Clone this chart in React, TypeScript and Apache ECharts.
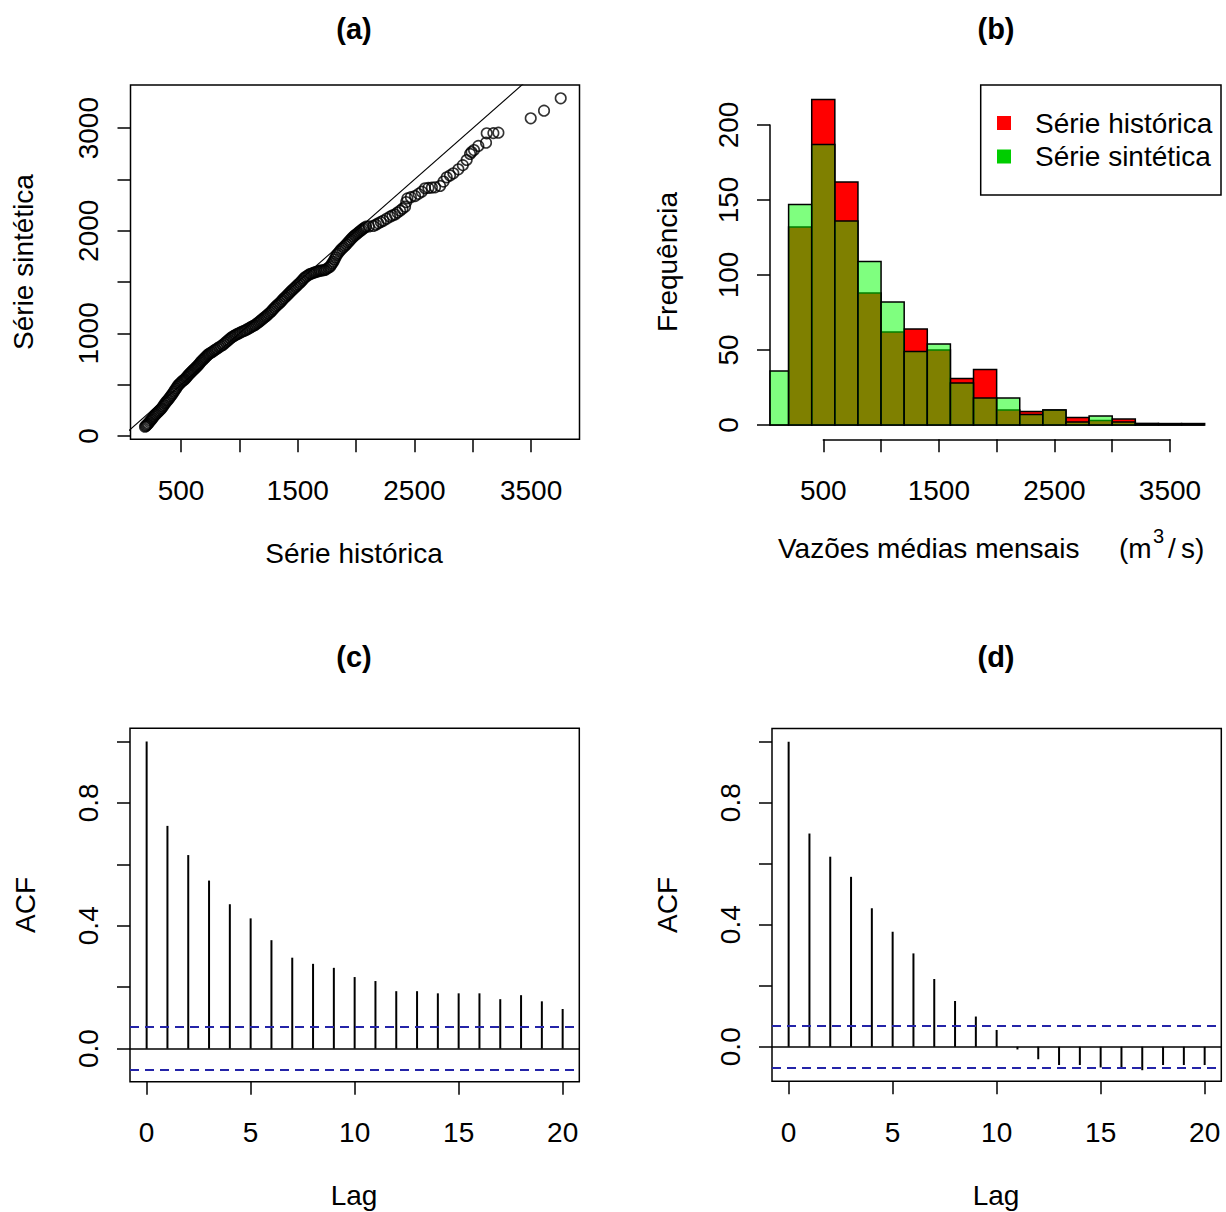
import React, { useEffect, useRef } from "react";
import * as echarts from "echarts";

const FONT = "Liberation Sans, Arial, sans-serif";

// ---------- (a) QQ plot: [historical quantile, synthetic quantile] ----------
const qqQuantiles: [number, number][] = [
  [191, 91], [198, 98], [205, 106], [212, 114], [220, 123], [229, 136], [238, 149], [248, 162],
  [257, 176], [267, 191], [277, 205], [286, 215], [296, 226], [306, 237], [315, 248], [325, 259],
  [334, 270], [344, 286], [353, 302], [363, 318], [372, 331], [382, 344], [391, 357], [401, 371],
  [410, 385], [420, 399], [429, 415], [439, 432], [448, 448], [458, 464], [467, 481], [477, 497],
  [487, 508], [496, 518], [506, 529], [515, 538], [525, 546], [534, 555], [544, 568], [553, 581],
  [563, 594], [572, 605], [582, 616], [591, 627], [601, 638], [610, 648], [620, 659], [629, 670],
  [639, 681], [648, 692], [658, 705], [667, 718], [677, 731], [687, 742], [696, 752], [706, 763],
  [715, 774], [725, 785], [734, 796], [746, 805], [759, 813], [771, 822], [784, 833], [797, 843],
  [811, 854], [826, 865], [842, 876], [857, 887], [870, 900], [884, 913], [897, 926], [909, 938],
  [922, 950], [934, 962], [946, 971], [959, 979], [971, 988], [984, 995], [998, 1002], [1011, 1010],
  [1026, 1018], [1042, 1025], [1057, 1033], [1070, 1042], [1084, 1050], [1097, 1059], [1109, 1067], [1122, 1074],
  [1134, 1082], [1146, 1093], [1159, 1103], [1171, 1114], [1183, 1125], [1194, 1136], [1206, 1147], [1217, 1158],
  [1229, 1168], [1240, 1179], [1252, 1192], [1265, 1205], [1277, 1218], [1288, 1232], [1300, 1247], [1311, 1261],
  [1323, 1274], [1336, 1286], [1348, 1299], [1360, 1313], [1371, 1328], [1383, 1342], [1395, 1356], [1408, 1370],
  [1420, 1384], [1431, 1397], [1443, 1410], [1454, 1423], [1466, 1436], [1479, 1449], [1491, 1462], [1503, 1476],
  [1516, 1490], [1528, 1504], [1540, 1518], [1551, 1533], [1563, 1547], [1577, 1558], [1591, 1568], [1605, 1579],
  [1619, 1584], [1634, 1590], [1648, 1595], [1662, 1600], [1677, 1606], [1691, 1611], [1705, 1613], [1720, 1616],
  [1734, 1618], [1748, 1629], [1763, 1639], [1777, 1650], [1787, 1666], [1796, 1683], [1806, 1699], [1815, 1721],
  [1825, 1742], [1834, 1764], [1845, 1780], [1857, 1797], [1868, 1813], [1881, 1827], [1893, 1841], [1906, 1855],
  [1918, 1870], [1931, 1886], [1943, 1901], [1954, 1915], [1966, 1929], [1977, 1943], [1988, 1954], [2000, 1964],
  [2011, 1975], [2023, 1986], [2036, 1997], [2048, 2008], [2060, 2019], [2073, 2029], [2085, 2040], [2110, 2043],
  [2148, 2047], [2170, 2060], [2191, 2073], [2212, 2086], [2234, 2099], [2262, 2118], [2291, 2138], [2312, 2150],
  [2334, 2160], [2355, 2178], [2377, 2196], [2398, 2215], [2420, 2235], [2430, 2280], [2440, 2316], [2470, 2328],
  [2506, 2339], [2535, 2360], [2563, 2381], [2591, 2414], [2620, 2418], [2650, 2421], [2677, 2424], [2720, 2437],
  [2750, 2480], [2777, 2521], [2805, 2540], [2834, 2560], [2877, 2599], [2915, 2640], [2948, 2690], [2977, 2749],
  [2990, 2768], [3011, 2787], [3048, 2827], [3114, 2859], [3120, 2950], [3177, 2952], [3220, 2956], [3497, 3096],
  [3611, 3171], [3754, 3291],
];
const identityLine = [0, 4000]; // y = x reference line (abline)
const qqXTicks = [500, 1000, 1500, 2000, 2500, 3000, 3500];
const qqXLabels = [500, 1500, 2500, 3500];
const qqYTicks = [0, 500, 1000, 1500, 2000, 2500, 3000];
const qqYLabels = [0, 1000, 2000, 3000];

// ---------- (b) histogram ----------
const histBreaks = [0, 200, 400, 600, 800, 1000, 1200, 1400, 1600, 1800, 2000, 2200, 2400, 2600, 2800, 3000, 3200, 3400, 3600, 3800];
const countsHistorica = [0, 132, 217, 162, 88, 62, 64, 50, 31, 37, 10, 9, 10, 5, 3, 4, 1, 1, 1];
const countsSintetica = [36, 147, 187, 136, 109, 82, 49, 54, 28, 18, 18, 7, 10, 2, 6, 2, 1, 0, 0];
const flowLabels = [500, 1500, 2500, 3500];

// ---------- (c), (d) ACF ----------
const lags = [0, 1, 2, 3, 4, 5, 6, 7, 8, 9, 10, 11, 12, 13, 14, 15, 16, 17, 18, 19, 20];
const acfC = [1.0, 0.725, 0.63, 0.547, 0.47, 0.424, 0.353, 0.296, 0.276, 0.263, 0.233, 0.22, 0.187, 0.187, 0.18, 0.18, 0.18, 0.161, 0.174, 0.154, 0.129];
const acfD = [1.0, 0.699, 0.623, 0.557, 0.454, 0.377, 0.306, 0.222, 0.15, 0.099, 0.055, -0.009, -0.041, -0.06, -0.06, -0.068, -0.068, -0.077, -0.06, -0.06, -0.06];
const ciC = 0.065;
const ciD = 0.066;
const lagTicks = [0, 5, 10, 15, 20];
const acfTicks = [0, 0.2, 0.4, 0.6, 0.8, 1.0];
const acfLabels = [0, 0.4, 0.8];

const BLUE = "#2424a8";

const tickStyle = { show: true, length: 13, lineStyle: { color: "#000", width: 1.5 } };
const labelStyle = { color: "#000", fontFamily: FONT, fontSize: 28 };
const noLine = { show: false, onZero: false };

function histRender(fill: string) {
  return (params: any, api: any) => {
    const lo = api.value(0);
    const hi = api.value(1);
    const n = api.value(2);
    const p0 = api.coord([lo, n]);
    const p1 = api.coord([hi, 0]);
    const cs = params.coordSys;
    const x0 = Math.max(p0[0], cs.x);
    const x1 = Math.min(p1[0], cs.x + cs.width);
    if (x1 <= x0) return null;
    return {
      type: "rect",
      shape: { x: x0, y: p0[1], width: x1 - x0, height: p1[1] - p0[1] },
      style: { fill, stroke: "#000", lineWidth: 1.5 },
    };
  };
}

function acfRender(params: any, api: any) {
  const p0 = api.coord([api.value(0), 0]);
  const p1 = api.coord([api.value(0), api.value(1)]);
  return {
    type: "line",
    shape: { x1: p0[0], y1: p0[1], x2: p1[0], y2: p1[1] },
    style: { stroke: "#000", lineWidth: 2 },
  };
}

function ciMarkLine(ci: number) {
  return {
    silent: true,
    symbol: "none",
    label: { show: false },
    data: [
      { yAxis: 0, lineStyle: { color: "#000", type: "solid", width: 1.5 } },
      { yAxis: ci, lineStyle: { color: BLUE, type: [9, 6], width: 2 } },
      { yAxis: -ci, lineStyle: { color: BLUE, type: [9, 6], width: 2 } },
    ],
  };
}

function txt(text: string, x: number, y: number, opts: any = {}) {
  return {
    type: "text",
    x,
    y,
    rotation: opts.rotation || 0,
    z: 100,
    style: {
      text,
      fill: "#000",
      fontFamily: FONT,
      fontSize: opts.fontSize || 28,
      fontWeight: opts.bold ? "bold" : "normal",
      align: opts.align || "center",
      verticalAlign: "middle",
    },
  };
}

const plain = (v: number) => String(v);

export default function App() {
  const ref = useRef<HTMLDivElement>(null);

  useEffect(() => {
    if (!ref.current) return;
    const chart = echarts.init(ref.current, undefined, { renderer: "svg" });

    const boxGrid = { show: true, borderColor: "#000", borderWidth: 1.5, backgroundColor: "transparent", outerBoundsMode: "none" };
    const plainGrid = { show: false, outerBoundsMode: "none" };

    const option: any = {
      animation: false,
      backgroundColor: "#fff",
      grid: [
        { ...boxGrid, left: 130.5, top: 85, width: 449, height: 354.3 }, // 0 (a)
        { ...plainGrid, left: 770, top: 85, width: 452, height: 354.3 }, // 1 (b) plot
        { ...plainGrid, left: 823.3, top: 400, width: 346.7, height: 39.3 }, // 2 (b) x axis
        { ...plainGrid, left: 770, top: 125, width: 100, height: 300 }, // 3 (b) y axis
        { ...boxGrid, left: 130, top: 728.3, width: 449.3, height: 353.4 }, // 4 (c)
        { ...boxGrid, left: 772, top: 728.6, width: 449.3, height: 352.6 }, // 5 (d)
      ],
      xAxis: [
        {
          type: "value", gridIndex: 0, min: 67, max: 3915,
          axisLine: noLine, splitLine: { show: false },
          axisTick: { ...tickStyle, customValues: qqXTicks },
          axisLabel: { ...labelStyle, margin: 37, customValues: qqXLabels, formatter: plain },
        },
        { type: "value", gridIndex: 1, min: 39, max: 3950, show: false, axisLine: noLine },
        {
          type: "value", gridIndex: 2, min: 500, max: 3500, interval: 500,
          axisLine: { show: true, onZero: false, lineStyle: { color: "#000", width: 1.5 } }, splitLine: { show: false },
          axisTick: tickStyle,
          axisLabel: { ...labelStyle, margin: 37, formatter: (v: number) => (flowLabels.indexOf(v) >= 0 ? String(v) : "") },
        },
        { type: "value", gridIndex: 3, min: 0, max: 1, show: false, axisLine: noLine },
        {
          type: "value", gridIndex: 4, min: -0.8, max: 20.8,
          axisLine: noLine, splitLine: { show: false },
          axisTick: { ...tickStyle, customValues: lagTicks },
          axisLabel: { ...labelStyle, margin: 37, customValues: lagTicks, formatter: plain },
        },
        {
          type: "value", gridIndex: 5, min: -0.8, max: 20.8,
          axisLine: noLine, splitLine: { show: false },
          axisTick: { ...tickStyle, customValues: lagTicks },
          axisLabel: { ...labelStyle, margin: 37, customValues: lagTicks, formatter: plain },
        },
      ],
      yAxis: [
        {
          type: "value", gridIndex: 0, min: -32, max: 3421,
          axisLine: noLine, splitLine: { show: false },
          axisTick: { ...tickStyle, customValues: qqYTicks },
          axisLabel: { ...labelStyle, margin: 28, rotate: 90, customValues: qqYLabels, formatter: plain },
        },
        { type: "value", gridIndex: 1, min: -9.5, max: 226.7, show: false, axisLine: noLine },
        { type: "value", gridIndex: 2, min: 0, max: 1, show: false, axisLine: noLine },
        {
          type: "value", gridIndex: 3, min: 0, max: 200, interval: 50,
          axisLine: { show: true, onZero: false, lineStyle: { color: "#000", width: 1.5 } }, splitLine: { show: false },
          axisTick: tickStyle,
          axisLabel: { ...labelStyle, margin: 28, rotate: 90, formatter: plain },
        },
        {
          type: "value", gridIndex: 4, min: -0.1076, max: 1.0426,
          axisLine: noLine, splitLine: { show: false },
          axisTick: { ...tickStyle, customValues: acfTicks },
          axisLabel: { ...labelStyle, margin: 28, rotate: 90, customValues: acfLabels, formatter: (v: number) => v.toFixed(1) },
        },
        {
          type: "value", gridIndex: 5, min: -0.113, max: 1.043,
          axisLine: noLine, splitLine: { show: false },
          axisTick: { ...tickStyle, customValues: acfTicks },
          axisLabel: { ...labelStyle, margin: 28, rotate: 90, customValues: acfLabels, formatter: (v: number) => v.toFixed(1) },
        },
      ],
      series: [
        {
          type: "line", xAxisIndex: 0, yAxisIndex: 0, clip: true, silent: true,
          data: identityLine.map((v) => [v, v]),
          symbol: "none", lineStyle: { color: "#000", width: 1.1 },
        },
        {
          type: "scatter", xAxisIndex: 0, yAxisIndex: 0, silent: true,
          data: qqQuantiles,
          symbol: "circle", symbolSize: 10.5,
          itemStyle: { color: "rgba(0,0,0,0)", borderColor: "#000", borderWidth: 1.6 },
        },
        {
          type: "custom", name: "Série histórica", xAxisIndex: 1, yAxisIndex: 1, silent: true,
          renderItem: histRender("#ff0000"),
          data: countsHistorica.map((n, i) => [histBreaks[i], histBreaks[i + 1], n]),
        },
        {
          type: "custom", name: "Série sintética", xAxisIndex: 1, yAxisIndex: 1, silent: true,
          renderItem: histRender("rgba(0,255,0,0.5)"),
          data: countsSintetica.map((n, i) => [histBreaks[i], histBreaks[i + 1], n]),
        },
        {
          type: "custom", xAxisIndex: 4, yAxisIndex: 4, silent: true,
          renderItem: acfRender,
          data: lags.map((l, i) => [l, acfC[i]]),
          markLine: ciMarkLine(ciC),
        },
        {
          type: "custom", xAxisIndex: 5, yAxisIndex: 5, silent: true,
          renderItem: acfRender,
          data: lags.map((l, i) => [l, acfD[i]]),
          markLine: ciMarkLine(ciD),
        },
      ],
      graphic: [
        txt("(a)", 354, 29, { bold: true, fontSize: 29 }),
        txt("(b)", 996, 29, { bold: true, fontSize: 29 }),
        txt("(c)", 354, 657, { bold: true, fontSize: 29 }),
        txt("(d)", 996, 657, { bold: true, fontSize: 29 }),
        txt("Série histórica", 354, 553),
        txt("Série sintética", 23, 262, { rotation: Math.PI / 2 }),
        txt("Frequência", 667, 262, { rotation: Math.PI / 2 }),
        txt("Vazões médias mensais", 778, 548, { align: "left" }),
        txt("(m", 1119, 548, { align: "left" }),
        txt("3", 1153, 536, { align: "left", fontSize: 20 }),
        txt("/", 1168, 548, { align: "left" }),
        txt("s)", 1181, 548, { align: "left" }),
        txt("Lag", 354, 1195),
        txt("Lag", 996, 1195),
        txt("ACF", 25, 905, { rotation: Math.PI / 2 }),
        txt("ACF", 667, 905, { rotation: Math.PI / 2 }),
        {
          type: "rect", z: 99,
          shape: { x: 980.7, y: 85, width: 240.3, height: 110 },
          style: { fill: "#fff", stroke: "#000", lineWidth: 1.5 },
        },
        { type: "rect", z: 100, shape: { x: 997, y: 116, width: 14, height: 14 }, style: { fill: "#ff0000" } },
        { type: "rect", z: 100, shape: { x: 997, y: 149.5, width: 14, height: 14 }, style: { fill: "#00cd00" } },
        txt("Série histórica", 1035, 123, { align: "left" }),
        txt("Série sintética", 1035, 156.5, { align: "left" }),
      ],
    };

    chart.setOption(option);
    return () => chart.dispose();
  }, []);

  return (
    <div
      ref={ref}
      style={{ position: "absolute", left: 0, top: 0, width: 1226, height: 1212, background: "#fff" }}
    />
  );
}
